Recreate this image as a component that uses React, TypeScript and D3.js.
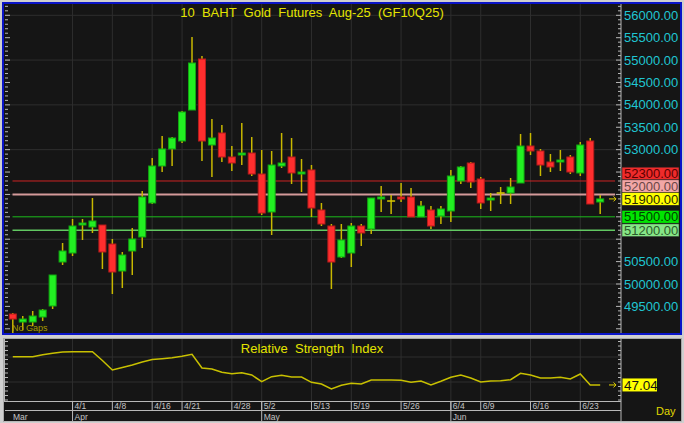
import React from 'react';
import * as d3 from 'd3';

// ---------- DATA ----------
const dates = [
  '3/24','3/25','3/26','3/27','3/28','3/31','4/1','4/2','4/3','4/4',
  '4/8','4/9','4/10','4/11','4/16','4/17','4/18','4/21','4/22','4/23',
  '4/24','4/25','4/28','4/29','4/30','5/2','5/6','5/7','5/8','5/9',
  '5/13','5/14','5/15','5/16','5/19','5/20','5/21','5/22','5/23','5/26',
  '5/27','5/28','5/29','5/30','6/4','6/5','6/6','6/9','6/10','6/11',
  '6/12','6/13','6/16','6/17','6/18','6/19','6/20','6/23','6/24','6/25'
];
const opens = [
  49330,49151,49151,49263,49509,50491,50692,51317,51273,51317,
  50893,50290,50737,51050,51809,52635,53015,53193,53885,55024,
  53104,53372,52836,52881,52925,52456,51608,52635,52836,52479,
  52546,51652,51295,50603,50692,51295,51228,51920,51853,51943,
  51943,51496,51652,51518,51630,52300,52702,52345,51876,52032,
  52032,52255,53081,52970,52724,52746,52836,52479,53193,51831
];
const highs = [
  49350,49285,49397,49442,50201,50916,51451,51451,51920,51317,
  51005,50715,51250,52077,52814,53305,53283,53863,55516,55091,
  53684,53551,53081,53595,53283,52992,52970,53372,53260,52791,
  52657,51809,51340,51340,51362,51340,51920,52188,51987,52255,
  52144,51853,51742,51742,52546,52635,52724,52389,52032,52166,
  52367,53350,53372,53015,52903,52992,52881,53171,53260,51987
];
const lows = [
  48900,48970,49060,49174,49442,50424,50625,50983,51139,50335,
  49777,49911,50201,50804,51786,52501,52635,53149,53885,52747,
  52389,52724,52523,52657,52412,51541,51094,52590,52233,52054,
  51496,51295,49888,50581,50380,50849,51117,51608,51563,51831,
  51496,51496,51228,51340,51384,52233,52144,51675,51630,51786,
  51786,52255,52881,52412,52501,52523,52456,52412,51786,51563
];
const closes = [
  49218,49218,49285,49419,50201,50737,51295,51362,51407,50715,
  50268,50648,51005,51943,52635,53015,53260,53841,54935,53193,
  53260,52836,52702,52925,52456,51585,52657,52702,52479,52501,
  51697,51340,50491,50983,51295,51139,51920,51943,51853,51898,
  51496,51742,51295,51675,52412,52613,52278,51809,51920,52032,
  52166,53081,52970,52657,52613,52769,52501,53104,51786,51900
];
const rsiValues = [
  75.3,75.3,75.3,77.3,78.7,80.0,80.3,80.3,80.3,71.5,
  62.0,64.5,67.0,70.0,72.5,73.3,74.3,75.7,77.7,64.0,
  63.0,59.7,58.3,59.3,57.0,50.3,55.3,56.7,55.0,55.0,
  49.7,48.0,43.0,46.7,48.7,48.0,52.0,52.0,52.0,51.7,
  49.7,51.0,47.0,50.7,54.7,57.0,54.0,50.0,51.0,51.3,
  52.3,58.7,57.0,54.0,54.0,54.7,53.0,58.0,47.0,47.04
];
const dateTicks = ['4/1','4/8','4/16','4/21','4/28','5/2','5/13','5/19','5/26','6/4','6/9','6/16','6/23'];
const monthNames = ['Mar','Apr','May','Jun'];
const monthStarts = ['3/24','4/1','5/2','6/4'];
const levelPrices = [52300, 52000, 51900, 51500, 51200];
const lastPrice = 51900;
const lastRsi = 47.04;
const titleText = '10  BAHT  Gold  Futures  Aug-25  (GF10Q25)';
const rsiTitle = 'Relative  Strength  Index';

// ---------- STYLES ----------
const levelLine = ['#cc2424', '#d49a9a', null, '#1cbc1c', '#62c862'];
const levelWidth = [1, 2, 0, 1, 1.5];
const levelFill = ['#ee2b2b', '#f2a6a6', '#ffff00', '#00e400', '#86e686'];
const levelText = ['#5a0000', '#6a4646', '#2a2a00', '#004000', '#2a5a2a'];
const FONT = '"Liberation Sans", Arial, sans-serif';

export default function App() {
  const W = 684, H = 423;
  const axisX = 621;
  const x = d3.scalePoint<string>().domain(dates).range([12.8, 600.2]);
  const y = d3.scaleLinear().domain([50000, 56000]).range([284, 15.3]);
  const yR = d3.scaleLinear().domain([31, 93]).range([401, 339]);
  const bw = 8;

  const minorPrice = d3.range(48900, 56300, 100).filter(v => y(v) > 4 && y(v) < 333);
  const rsiTickVals = d3.range(-4, 10).map(k => 50 + k * 4.5).filter(v => yR(v) > 339 && yR(v) < 401);

  // stack level labels to avoid overlap
  const bh = 12.7;
  const order = levelPrices.map((p, i) => ({ i, yc: y(p) })).sort((a, b) => b.yc - a.yc);
  const boxY: number[] = [];
  let prev = Infinity;
  order.forEach(o => {
    let yc = o.yc;
    if (yc > prev - bh) yc = prev - bh;
    boxY[o.i] = yc;
    prev = yc;
  });
  // axis labels not hidden by level boxes
  const labelPrices = d3.range(49500, 56001, 500).filter(v => {
    const ly = y(v);
    return !boxY.some(b => Math.abs(b - ly) < bh * 0.75);
  });

  const rsiLine = d3.line<number>().x((_, i) => x(dates[i]) as number).y(d => yR(d));

  const gridColor = '#2e2e2e';
  const axisColor = '#b8b8b8';

  return (
    <svg width={W} height={H} style={{ position: 'absolute', left: 0, top: 0, display: 'block' }} fontFamily={FONT}>
      <defs>
        <clipPath id="priceClip"><rect x={5} y={4} width={axisX - 5} height={329} /></clipPath>
        <clipPath id="labelClip"><rect x={axisX} y={4} width={60} height={329} /></clipPath>
      </defs>
      <rect x={0} y={0} width={W} height={H} fill="#cfcfcf" />
      {/* price panel */}
      <rect x={3} y={3} width={678} height={331} fill="#151515" stroke="#0a14c8" strokeWidth={2} />
      {/* RSI panel */}
      <rect x={3.5} y={338.5} width={678} height={83} fill="#151515" stroke="#a8a8a8" strokeWidth={1} />

      {/* grid - price */}
      {d3.range(50000, 56001, 1000).map(v => (
        <line key={'hg' + v} x1={5} x2={axisX} y1={y(v)} y2={y(v)} stroke={gridColor} />
      ))}
      {dateTicks.map(d => (
        <line key={'vg' + d} x1={x(d)} x2={x(d)} y1={4} y2={333} stroke={gridColor} />
      ))}
      {/* grid - rsi */}
      {dateTicks.map(d => (
        <line key={'rvg' + d} x1={x(d)} x2={x(d)} y1={339} y2={401} stroke={gridColor} />
      ))}
      {[50, 75].map(v => (
        <line key={'rhg' + v} x1={5} x2={axisX} y1={yR(v)} y2={yR(v)} stroke={gridColor} />
      ))}

      {/* level lines */}
      {levelPrices.map((p, i) => levelLine[i] ? (
        <line key={'lv' + p} x1={12.5} x2={615} y1={y(p)} y2={y(p)} stroke={levelLine[i] as string} strokeWidth={levelWidth[i]} />
      ) : null)}

      {/* candles */}
      <g clipPath="url(#priceClip)">
        {dates.map((d, i) => {
          const cx = x(d) as number;
          const o = opens[i], c = closes[i];
          const up = c > o, flat = c === o;
          const top = y(Math.max(o, c)), bot = y(Math.min(o, c));
          const h = Math.max(bot - top, 2);
          return (
            <g key={'c' + d}>
              <line x1={cx} x2={cx} y1={y(highs[i])} y2={y(lows[i])} stroke="#c8b800" strokeWidth={1.5} />
              {flat ? (
                <line x1={cx - bw / 2} x2={cx + bw / 2} y1={top} y2={top} stroke="#d8c800" strokeWidth={1.5} />
              ) : (
                <rect x={cx - bw / 2 + 0.5} y={top} width={bw - 1} height={h}
                  fill={up ? '#22f022' : '#ff2e2e'} stroke={up ? '#12a812' : '#b81c1c'} strokeWidth={1} />
              )}
            </g>
          );
        })}
      </g>

      {/* left ticks */}
      {minorPrice.map(v => (
        <line key={'lt' + v} x1={5} x2={v % 500 === 0 ? 10 : 8} y1={y(v)} y2={y(v)} stroke={axisColor} />
      ))}
      {/* right axis */}
      <line x1={axisX} x2={axisX} y1={4} y2={333} stroke={axisColor} />
      {minorPrice.map(v => (
        <line key={'rt' + v} x1={axisX - (v % 500 === 0 ? 5 : 3)} x2={axisX} y1={y(v)} y2={y(v)} stroke={axisColor} />
      ))}
      {labelPrices.map(v => (
        <text key={'pl' + v} x={624} y={y(v) + 4.6} fontSize={13} fill="#20c6d2">{v.toFixed(2)}</text>
      ))}
      {levelPrices.map((p, i) => (
        <g key={'lb' + p}>
          <rect x={622} y={boxY[i] - bh / 2} width={57} height={bh} fill={levelFill[i]} stroke="#202020" strokeWidth={0.5} />
          <text x={624} y={boxY[i] + 4.6} fontSize={13} fill={levelText[i]}>{p.toFixed(2)}</text>
        </g>
      ))}
      {/* last price marker */}
      <path d={`M609,${y(lastPrice)} H616 M613.5,${y(lastPrice) - 2.5} L616,${y(lastPrice)} L613.5,${y(lastPrice) + 2.5}`}
        stroke="#e0d000" strokeWidth={1} fill="none" />

      {/* title */}
      <text x={312} y={16.5} fontSize={13} fill="#e4e400" textAnchor="middle" style={{ whiteSpace: 'pre' }}>{titleText}</text>
      <text x={12} y={331} fontSize={9} fill="#a89a00">No Gaps</text>

      {/* RSI */}
      <path d={rsiLine(rsiValues) as string} fill="none" stroke="#c8c000" strokeWidth={1.5} />
      <text x={312} y={352.5} fontSize={13} fill="#e4e400" textAnchor="middle" style={{ whiteSpace: 'pre' }}>{rsiTitle}</text>
      <line x1={4.5} x2={4.5} y1={339} y2={401} stroke={axisColor} />
      {rsiTickVals.map(v => (
        <line key={'rlt' + v} x1={5} x2={8} y1={yR(v)} y2={yR(v)} stroke={axisColor} />
      ))}
      <line x1={axisX} x2={axisX} y1={339} y2={421.5} stroke={axisColor} />
      {rsiTickVals.map(v => (
        <line key={'rrt' + v} x1={axisX - 3} x2={axisX} y1={yR(v)} y2={yR(v)} stroke={axisColor} />
      ))}
      <path d={`M609,${yR(lastRsi)} H616 M613.5,${yR(lastRsi) - 2.5} L616,${yR(lastRsi)} L613.5,${yR(lastRsi) + 2.5}`}
        stroke="#e0d000" strokeWidth={1} fill="none" />
      <rect x={622.5} y={yR(lastRsi) - 6.5} width={34.5} height={13} fill="#ffff00" />
      <text x={624} y={yR(lastRsi) + 5} fontSize={13.5} fill="#111">{lastRsi.toFixed(2)}</text>

      {/* date axis */}
      <line x1={4} x2={axisX} y1={401.5} y2={401.5} stroke={axisColor} />
      <line x1={5} x2={axisX} y1={410.5} y2={410.5} stroke={axisColor} />
      <line x1={4} x2={682} y1={421.5} y2={421.5} stroke={axisColor} />
      {dateTicks.map(d => (
        <g key={'dt' + d}>
          <line x1={x(d)} x2={x(d)} y1={401.5} y2={410.5} stroke={axisColor} />
          <text x={(x(d) as number) + 2} y={409} fontSize={8.5} fill="#c4c4c4">{d}</text>
        </g>
      ))}
      {monthStarts.map((d, i) => (
        <g key={'m' + d}>
          {i > 0 ? <line x1={x(d)} x2={x(d)} y1={401.5} y2={421.5} stroke={axisColor} /> : null}
          <text x={i === 0 ? 13 : (x(d) as number) + 2} y={419.5} fontSize={8.5} fill="#c4c4c4">{monthNames[i]}</text>
        </g>
      ))}
      <text x={656} y={415} fontSize={11} fill="#e0d800">Day</text>
    </svg>
  );
}
